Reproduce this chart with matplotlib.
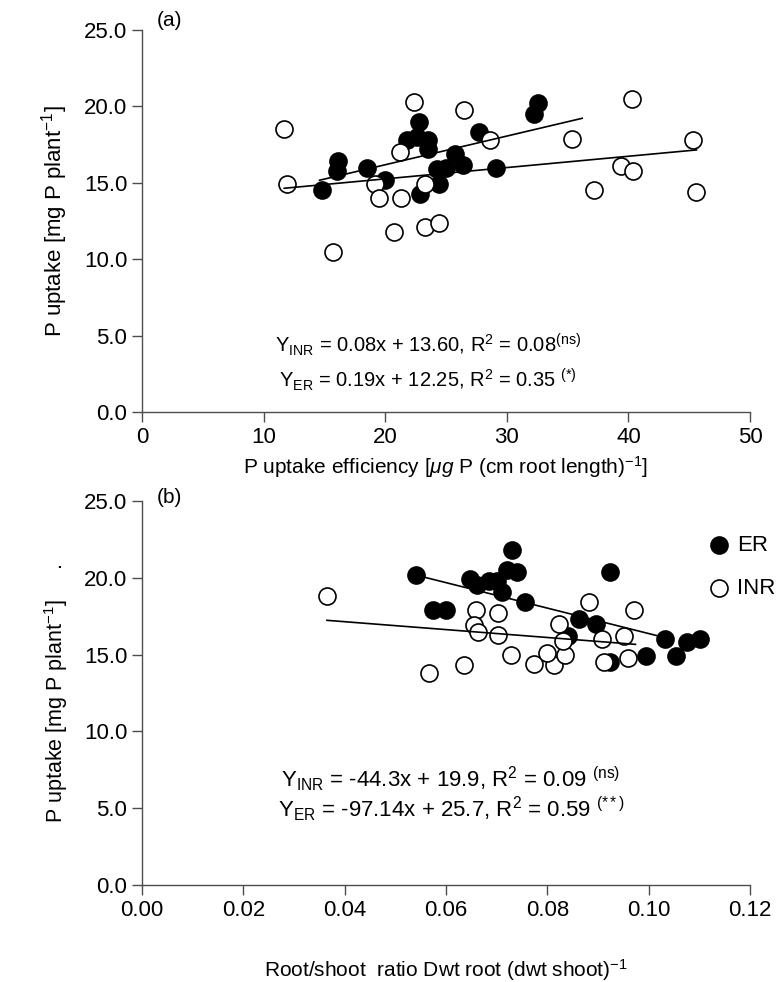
import numpy as np
import matplotlib
matplotlib.use("Agg")
import matplotlib.pyplot as plt
from matplotlib import rcParams

rcParams.update({
    "font.family": "Liberation Sans",
    "font.size": 16,
    "mathtext.fontset": "custom",
    "mathtext.rm": "Liberation Sans",
    "mathtext.it": "Liberation Sans:italic",
    "mathtext.default": "regular",
    "axes.spines.top": False,
    "axes.spines.right": False,
})

# ---- panel (a): P uptake vs P uptake efficiency ----
a_er_x = [14.8, 16.1, 16.0, 18.5, 20.0, 22.8, 21.8, 23.5, 22.6, 23.5, 22.9, 24.4,
          24.3, 25.0, 25.7, 26.4, 27.7, 29.1, 32.2, 32.6]
a_er_y = [14.5, 16.4, 15.8, 16.0, 15.2, 19.0, 17.8, 17.8, 18.0, 17.2, 14.3, 14.9,
          15.9, 16.0, 16.9, 16.2, 18.3, 16.0, 19.5, 20.2]
a_inr_x = [11.7, 11.9, 15.7, 22.4, 26.5, 21.2, 19.2, 19.5, 21.3, 23.3, 20.7, 23.3,
           24.4, 28.6, 35.4, 40.3, 45.3, 39.4, 40.4, 37.2, 45.6]
a_inr_y = [18.5, 14.9, 10.5, 20.3, 19.8, 17.0, 14.9, 14.0, 14.0, 14.9, 11.8, 12.1,
           12.4, 17.8, 17.9, 20.5, 17.8, 16.1, 15.8, 14.5, 14.4]
# fitted lines as drawn: [slope, intercept], x range
a_er_fit, a_er_range = [0.1877, 12.43], [14.6, 36.2]
a_inr_fit, a_inr_range = [0.074, 13.78], [11.7, 45.6]
a_eq = [r"Y$_{\rm INR}$ = 0.08x + 13.60, R$^2$ = 0.08$^{\rm (ns)}$",
        r"Y$_{\rm ER}$ = 0.19x + 12.25, R$^2$ = 0.35 $^{(*)}$"]

# ---- panel (b): P uptake vs root/shoot ratio ----
b_er_x = [0.054, 0.0575, 0.0600, 0.0648, 0.0662, 0.0684, 0.0701, 0.0711, 0.0721,
          0.0741, 0.0730, 0.0756, 0.0924, 0.0862, 0.0896, 0.1033, 0.1075, 0.1102,
          0.0994, 0.1053, 0.0924, 0.0840]
b_er_y = [20.2, 17.9, 17.9, 19.9, 19.5, 19.8, 19.8, 19.1, 20.5, 20.4, 21.8, 18.4,
          20.4, 17.3, 17.0, 16.0, 15.8, 16.0, 14.9, 14.9, 14.5, 16.2]
b_inr_x = [0.0365, 0.0566, 0.0636, 0.0728, 0.0773, 0.0813, 0.0800, 0.0835, 0.0660,
           0.0703, 0.0655, 0.0664, 0.0702, 0.0824, 0.0830, 0.0882, 0.0908, 0.0912,
           0.0972, 0.0951, 0.0960]
b_inr_y = [18.8, 13.8, 14.3, 15.0, 14.4, 14.3, 15.1, 15.0, 17.9, 17.7, 16.9, 16.5,
           16.3, 17.0, 15.9, 18.4, 16.0, 14.5, 17.9, 16.2, 14.8]
b_er_fit, b_er_range = [-82.9, 24.66], [0.054, 0.1015]
b_inr_fit, b_inr_range = [-25.7, 18.17], [0.0365, 0.0974]
b_eq = [r"Y$_{\rm INR}$ = -44.3x + 19.9, R$^2$ = 0.09 $^{\rm (ns)}$",
        r"Y$_{\rm ER}$ = -97.14x + 25.7, R$^2$ = 0.59 $^{(**)}$"]

YTICKS = [0, 5, 10, 15, 20, 25]
AXC = "#4d4d4d"


def style(ax):
    for s in ("left", "bottom"):
        ax.spines[s].set_color(AXC)
        ax.spines[s].set_linewidth(1.0)
    ax.tick_params(direction="out", length=7, width=1.0, color=AXC, labelsize=16)
    ax.set_yticks(YTICKS)
    ax.set_yticklabels([f"{v:.1f}" for v in YTICKS])
    ax.set_ylim(0, 25)


def panel(ax, ex, ey, ix, iy, efit, erng, ifit, irng):
    ax.scatter(ex, ey, s=150, c="black", edgecolors="black", lw=1.2, zorder=3, clip_on=False)
    ax.scatter(ix, iy, s=150, c="white", edgecolors="black", lw=1.2, zorder=4, clip_on=False)
    for fit, rng in ((efit, erng), (ifit, irng)):
        xs = np.array(rng)
        ax.plot(xs, fit[0] * xs + fit[1], color="black", lw=1.2, zorder=5)


fig = plt.figure(figsize=(7.81, 9.82), dpi=100)
ax1 = fig.add_axes([0.1818, 0.5804, 0.7785, 0.3890])
ax2 = fig.add_axes([0.1818, 0.0988, 0.7785, 0.3910])

panel(ax1, a_er_x, a_er_y, a_inr_x, a_inr_y, a_er_fit, a_er_range, a_inr_fit, a_inr_range)
style(ax1)
ax1.set_xlim(0, 50)
ax1.set_xticks([0, 10, 20, 30, 40, 50])
ax1.set_ylabel(r"P uptake [mg P plant$^{-1}$]", labelpad=10)
ax1.set_xlabel(r"P uptake efficiency [$\mathit{\mu g}$ P (cm root length)$^{-1}$]",
               labelpad=5, fontsize=15)
ax1.text(0.025, 1.025, "(a)", transform=ax1.transAxes, fontsize=15, va="center")
ax1.text(23.5, 4.4, a_eq[0], ha="center", va="center", fontsize=14.5)
ax1.text(23.5, 2.1, a_eq[1], ha="center", va="center", fontsize=14.5)

panel(ax2, b_er_x, b_er_y, b_inr_x, b_inr_y, b_er_fit, b_er_range, b_inr_fit, b_inr_range)
style(ax2)
ax2.set_xlim(0, 0.12)
xt = [0.0, 0.02, 0.04, 0.06, 0.08, 0.10, 0.12]
ax2.set_xticks(xt)
ax2.set_xticklabels([f"{v:.2f}" for v in xt])
ax2.set_ylabel(r"P uptake [mg P plant$^{-1}$]     .", labelpad=10, fontsize=15.5)
ax2.set_xlabel(r"Root/shoot  ratio Dwt root (dwt shoot)$^{-1}$", labelpad=26, fontsize=15)
ax2.text(0.025, 1.01, "(b)", transform=ax2.transAxes, fontsize=15, va="center")
ax2.text(0.061, 6.95, b_eq[0], ha="center", va="center", fontsize=16)
ax2.text(0.061, 5.0, b_eq[1], ha="center", va="center", fontsize=16)

ax2.scatter([], [], s=150, c="black", edgecolors="black", lw=1.2, label="ER")
ax2.scatter([], [], s=150, c="white", edgecolors="black", lw=1.2, label="INR")
ax2.legend(loc="upper left", bbox_to_anchor=(0.93, 0.912), frameon=False, fontsize=16,
           handlelength=1.0, handletextpad=0.35, labelspacing=1.0, borderpad=0.0,
           borderaxespad=0.0)

fig.savefig("out.png", dpi=100)
